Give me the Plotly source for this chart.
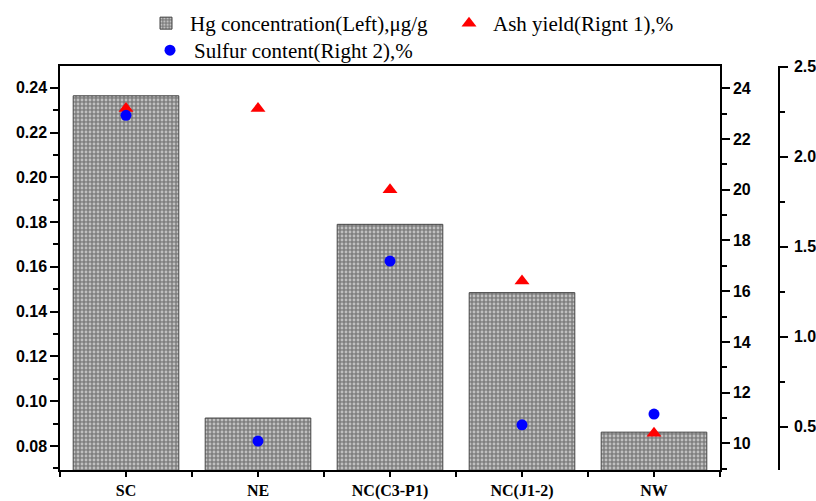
import plotly.graph_objects as go
import numpy as np

categories = ["SC", "NE", "NC(C3-P1)", "NC(J1-2)", "NW"]
hg_conc = [0.2364, 0.0925, 0.1790, 0.1485, 0.0862]
ash_yield = [23.2, 23.2, 20.0, 16.4, 10.4]
sulfur = [2.23, 0.42, 1.42, 0.51, 0.57]

xi = np.arange(len(categories))

W, H = 816, 501
ML, MR, MT, MB = 60, 0, 66, 31
pw = W - ML - MR
ph = H - MT - MB
x_end = (720 - ML) / pw
ax3_pos = (779 - ML) / pw

tickfont_b = dict(family="Liberation Sans", size=16, color="black", weight="bold")

fig = go.Figure()
fig.add_trace(go.Bar(
    x=xi, y=hg_conc, width=0.8, name="Hg concentration(Left),\u03bcg/g",
    marker=dict(color="#808080", line=dict(color="#444444", width=1),
                pattern=dict(shape=".", size=4, solidity=0.4, fgcolor="white",
                             fillmode="overlay")),
    yaxis="y", legend="legend",
))
fig.add_trace(go.Scatter(
    x=xi, y=ash_yield, mode="markers", name="Ash yield(Rignt 1),%",
    marker=dict(symbol="triangle-up", size=13, color="#ff0000"),
    yaxis="y2", legend="legend",
))
fig.add_trace(go.Scatter(
    x=xi, y=sulfur, mode="markers", name="Sulfur content(Right 2),%",
    marker=dict(symbol="circle", size=11, color="#0000ff"),
    yaxis="y3", legend="legend2",
))

fig.update_layout(
    width=W, height=H,
    margin=dict(l=ML, r=MR, t=MT, b=MB, autoexpand=False),
    plot_bgcolor="white", paper_bgcolor="white",
    xaxis=dict(
        domain=[0, x_end], range=[-0.5, len(categories) - 0.5],
        tickmode="array", tickvals=list(xi), ticktext=categories,
        ticks="outside", ticklen=5, tickwidth=1.5, tickcolor="black",
        showline=True, linecolor="black", linewidth=1.5, mirror=True,
        showgrid=False, zeroline=False,
        tickfont=dict(family="Liberation Serif", size=16, color="black", weight="bold"),
        minor=dict(tickmode="linear", tick0=-0.5, dtick=1, ticks="outside",
                   ticklen=5, tickwidth=1.5, tickcolor="black", showgrid=False),
        automargin=False,
    ),
    yaxis=dict(
        range=[0.0693, 0.2497], dtick=0.02, tick0=0, tickformat=".2f",
        ticks="outside", ticklen=8, tickwidth=1.5, tickcolor="black",
        showline=True, linecolor="black", linewidth=1.5,
        showgrid=False, zeroline=False, tickfont=tickfont_b,
        minor=dict(dtick=0.01, ticks="outside", ticklen=5, tickwidth=1.5,
                   tickcolor="black", showgrid=False),
        automargin=False,
    ),
    yaxis2=dict(
        overlaying="y", side="right", anchor="x",
        range=[8.95, 24.88], dtick=2, tick0=0,
        ticks="outside", ticklen=8, tickwidth=1.5, tickcolor="black",
        showline=True, linecolor="black", linewidth=1.5,
        showgrid=False, zeroline=False, tickfont=tickfont_b,
        minor=dict(dtick=1, ticks="outside", ticklen=5, tickwidth=1.5,
                   tickcolor="black", showgrid=False),
        automargin=False,
    ),
    yaxis3=dict(
        overlaying="y", side="right", anchor="free", position=ax3_pos,
        range=[0.259, 2.504], dtick=0.5, tick0=0, tickformat=".1f",
        ticks="outside", ticklen=8, tickwidth=1.5, tickcolor="black",
        showline=True, linecolor="black", linewidth=1.5,
        showgrid=False, zeroline=False, tickfont=tickfont_b,
        ticklabelstandoff=3,
        minor=dict(dtick=0.25, ticks="outside", ticklen=5, tickwidth=1.5,
                   tickcolor="black", showgrid=False),
        automargin=False,
    ),
    legend=dict(
        orientation="h", x=(142 - ML) / pw, y=1 + (MT - 3) / ph,
        xanchor="left", yanchor="top",
        font=dict(family="Liberation Serif", size=21, color="black"),
        bgcolor="rgba(0,0,0,0)", itemwidth=38, entrywidth=250,
    ),
    legend2=dict(
        orientation="h", x=(146 - ML) / pw, y=1 + (MT - 30) / ph,
        xanchor="left", yanchor="top",
        font=dict(family="Liberation Serif", size=21, color="black"),
        bgcolor="rgba(0,0,0,0)", itemwidth=38,
    ),
    showlegend=True,
)

fig.write_html("out.html")
